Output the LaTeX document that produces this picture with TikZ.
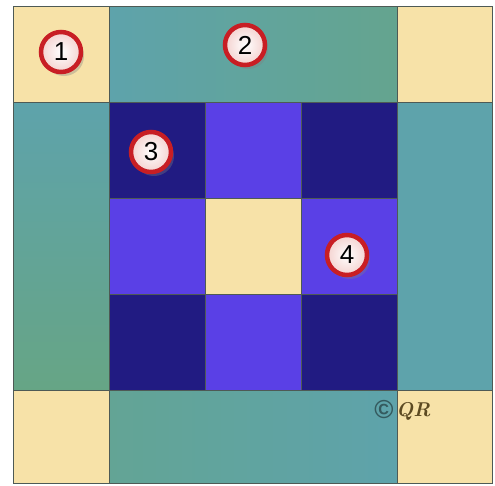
\documentclass[tikz,border=0pt]{standalone}
\usepackage{fontspec}
\setsansfont{Liberation Sans}
\usetikzlibrary{shadows}

\definecolor{patchcream}{HTML}{F7E2A8}
\definecolor{patchteal}{HTML}{5EA3AB}
\definecolor{patchgreen}{HTML}{6CA66C}
\definecolor{patchnavy}{HTML}{211B82}
\definecolor{patchviolet}{HTML}{5A40E6}
\definecolor{seamgrey}{HTML}{4E5A55}
\definecolor{badgered}{HTML}{C81E24}
\definecolor{badgepink}{HTML}{F4D2CF}
\definecolor{signbrown}{HTML}{5C4A22}

\begin{document}
\begin{tikzpicture}[
    x=1pt, y=-1pt,
    seam/.style={draw=seamgrey, line width=0.8pt},
    cream/.style={seam, fill=patchcream},
    navy/.style={seam, fill=patchnavy},
    violet/.style={seam, fill=patchviolet},
    badge/.style={
        circle,
        draw=badgered,
        line width=4.5pt,
        inner color=white,
        outer color=badgepink,
        minimum size=40pt,
        inner sep=0pt,
        font=\sffamily\fontsize{26}{26}\selectfont,
        drop shadow={shadow xshift=3pt, shadow yshift=-4pt, opacity=0.35}
    }
]
\useasboundingbox (0,0) rectangle (495,485);

% corner squares
\draw[cream] (13,6) rectangle (109,102);
\draw[cream] (397,6) rectangle (492,102);
\draw[cream] (13,390) rectangle (109,483);
\draw[cream] (397,390) rectangle (492,483);

% side bars
\shade[seam, left color=patchteal, right color=patchgreen!45!patchteal] (109,6) rectangle (397,102);
\shade[seam, top color=patchteal, bottom color=patchgreen!60!patchteal] (13,102) rectangle (109,390);
\shade[seam, top color=patchteal, middle color=patchgreen!55!patchteal, bottom color=patchteal] (397,102) rectangle (492,390);
\shade[seam, left color=patchgreen!35!patchteal, right color=patchteal] (109,390) rectangle (397,483);

% nine-patch centre
\foreach \col/\row/\kind in {0/0/navy, 1/0/violet, 2/0/navy,
                             0/1/violet, 1/1/cream, 2/1/violet,
                             0/2/navy, 1/2/violet, 2/2/navy}
    \draw[\kind] (109+96*\col,102+96*\row) rectangle ++(96,96);

% numbered badges
\node[badge] (one) at (61,52) {1};
\node[badge] (two) at (245,45) {2};
\node[badge] (three) at (151,152) {3};
\node[badge] (four) at (347,255) {4};

% signature
\node[font=\sffamily\bfseries\fontsize{26}{26}\selectfont, text=patchteal!55!black, inner sep=0pt] (copy) at (384,410) {\textcopyright};
\node[font=\bfseries\itshape\fontsize{20}{20}\selectfont, text=signbrown, inner sep=0pt, anchor=west] (sign) at (396,411) {QR};
\end{tikzpicture}
\end{document}
